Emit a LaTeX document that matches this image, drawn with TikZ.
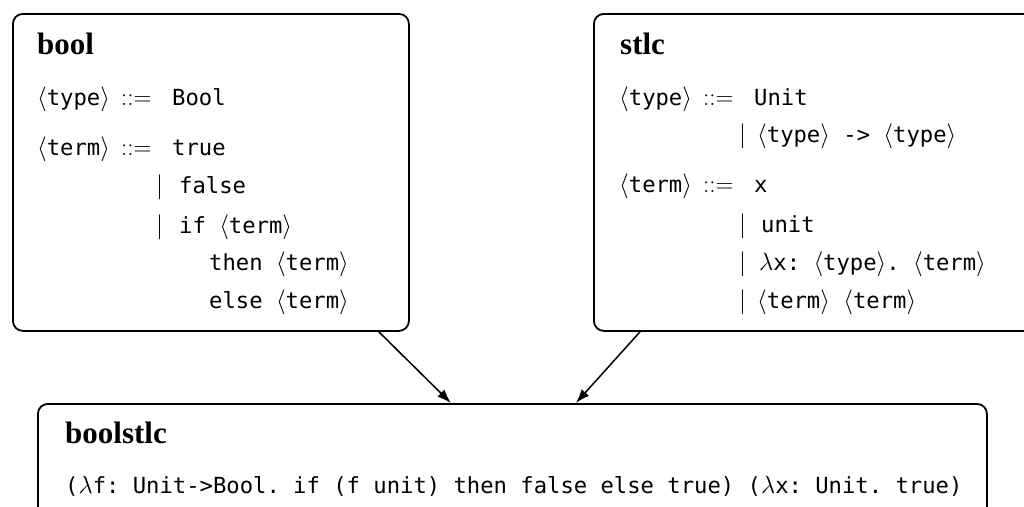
\documentclass[tikz,border=0pt]{standalone}
\usepackage{graphicx}
\usepackage{fontspec}
\setmainfont{Liberation Serif}
\setmonofont{DejaVu Sans Mono}
\usetikzlibrary{arrows.meta}
\newcommand\mth[1]{\scalebox{1.2}{\fontsize{20.74}{25}\selectfont$#1$}}
\newcommand\ntm[1]{\mth{\langle}\texttt{#1}\mth{\rangle}}
\tikzset{
  box/.style={draw, line width=1.8pt, rounded corners=10pt, anchor=north west, inner sep=0pt},
  ttl/.style={anchor=base west, inner sep=0pt, font=\fontsize{31}{36}\selectfont\bfseries},
  txt/.style={anchor=base west, inner sep=0pt, font=\fontsize{22.2}{26}\selectfont},
  arr/.style={-{Latex[length=14pt,width=10pt]}, line width=1.5pt}
}
\begin{document}
\begin{tikzpicture}[x=1pt,y=-1pt]
\useasboundingbox (0,0) rectangle (1024,506);
\clip (0,0) rectangle (1024,506);
% boxes
\node[box, minimum width=396pt, minimum height=317pt] (bool) at (12,13) {};
\node[box, minimum width=447pt, minimum height=317pt] (stlc) at (593,13) {};
\node[box, minimum width=949pt, minimum height=130pt] (boolstlc) at (37,403) {};
% bool
\node[ttl] (bt) at (37,54) {bool};
\node[txt] (b1l) at (37,105) {\ntm{type}};
\node[txt] (b1o) at (121,105) {\mth{::=}};
\node[txt] (b1r) at (172,105) {\texttt{Bool}};
\node[txt] (b2l) at (37,155) {\ntm{term}};
\node[txt] (b2o) at (121,155) {\mth{::=}};
\node[txt] (b2r) at (172,155) {\texttt{true}};
\node[txt] (b3b) at (156,193) {\mth{|}};
\node[txt] (b3r) at (179,193) {\texttt{false}};
\node[txt] (b4b) at (156,233) {\mth{|}};
\node[txt] (b4r) at (179,233) {\texttt{if }\ntm{term}};
\node[txt] (b5r) at (209,270) {\texttt{then }\ntm{term}};
\node[txt] (b6r) at (209,308) {\texttt{else }\ntm{term}};
% stlc
\node[ttl] (st) at (620,54) {stlc};
\node[txt] (s1l) at (619,105) {\ntm{type}};
\node[txt] (s1o) at (703,105) {\mth{::=}};
\node[txt] (s1r) at (754,105) {\texttt{Unit}};
\node[txt] (s2b) at (739,142) {\mth{|}};
\node[txt] (s2r) at (757,142) {\ntm{type}\texttt{ -> }\ntm{type}};
\node[txt] (s3l) at (619,192) {\ntm{term}};
\node[txt] (s3o) at (703,192) {\mth{::=}};
\node[txt] (s3r) at (754,192) {\texttt{x}};
\node[txt] (s4b) at (739,232) {\mth{|}};
\node[txt] (s4r) at (761,232) {\texttt{unit}};
\node[txt] (s5b) at (739,270) {\mth{|}};
\node[txt] (s5r) at (759,270) {\mth{\lambda}\texttt{x: }\ntm{type}\texttt{. }\ntm{term}};
\node[txt] (s6b) at (739,308) {\mth{|}};
\node[txt] (s6r) at (757,308) {\ntm{term}\texttt{ }\ntm{term}};
% boolstlc
\node[ttl] (bst) at (65,443) {boolstlc};
\node[txt] (code) at (65,493) {\texttt{(}\mth{\lambda}\texttt{f: Unit->Bool. if (f unit) then false else true) (}\mth{\lambda}\texttt{x: Unit. true)}};
% arrows
\draw[arr] ([xshift=-31pt]bool.south east) -- ([xshift=-61.5pt]boolstlc.north);
\draw[arr] ([xshift=47pt]stlc.south west) -- ([xshift=63.5pt]boolstlc.north);
\end{tikzpicture}
\end{document}
